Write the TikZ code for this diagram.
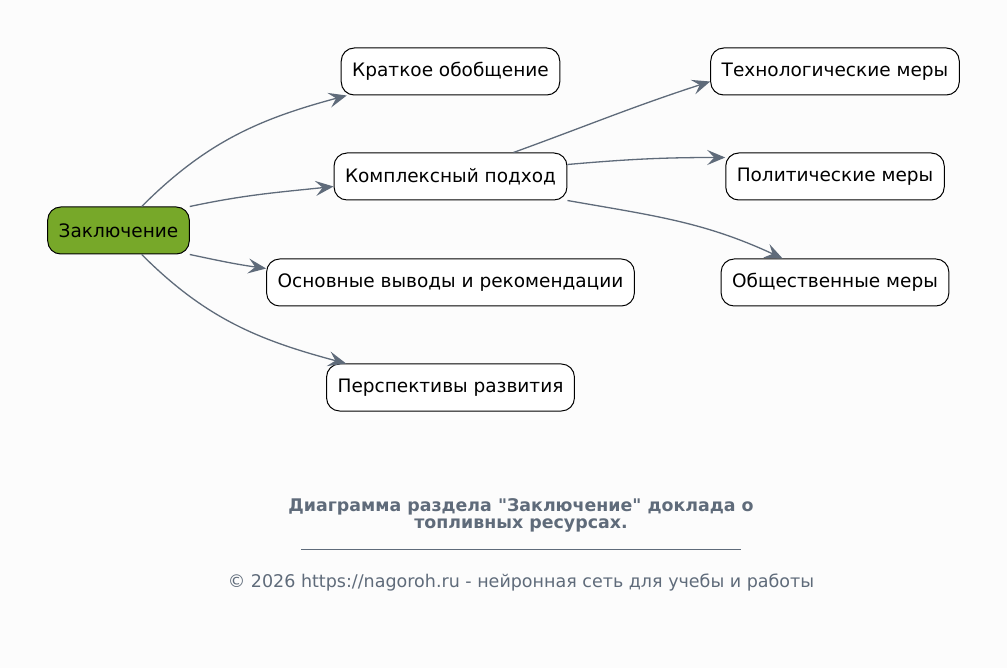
\documentclass[tikz,border=0pt]{standalone}
\usepackage{fontspec}
\setmainfont{DejaVu Sans}[Ligatures=TeXOff]
\usetikzlibrary{arrows.meta,positioning}
\definecolor{vert}{HTML}{77A829}
\definecolor{ardoise}{HTML}{5F6B7A}
\definecolor{fond}{HTML}{FCFCFC}

\begin{document}
\begin{tikzpicture}[x=1pt, y=-1pt, ->, >={Stealth[length=18pt,width=15pt,inset=7pt]}, every node/.style={draw, rounded corners=13pt, fill=white, font=\fontsize{18.5}{22}\selectfont, minimum height=47pt, inner xsep=11pt, line width=1pt}, lien/.style={draw=ardoise, line width=1.3pt}, pied/.style={draw=none, fill=none, rounded corners=0pt, minimum height=0pt, inner sep=0pt, text=ardoise, align=center}]
		\fill[fond] (0,0) rectangle (1007,668);
		\useasboundingbox (0,0) rectangle (1007,668);
		
		\node [fill=vert] (0) at (118.5,230.5) {Заключение};
		\node (1) at (450.5,71.5) {Краткое обобщение};
		\node (2) at (450.5,176.5) {Комплексный подход};
		\node (3) at (450.5,282.5) {Основные выводы и рекомендации};
		\node (4) at (450.5,387.5) {Перспективы развития};
		\node (5) at (835,71.5) {Технологические меры};
		\node (6) at (835,176.5) {Политические меры};
		\node (7) at (835,282.5) {Общественные меры};
		
		\draw [lien] (0.46) to[out=45, in=195] ([xshift=6pt]1.south west);
		\draw [lien] (0.north east) to[out=12, in=186] ([yshift=-10pt]2.west);
		\draw [lien] (0.south east) to[out=-12, in=172] ([yshift=14pt]3.west);
		\draw [lien] (0.-46) to[out=-45, in=165] ([xshift=20pt]4.north west);
		\draw [lien] ([xshift=-54pt]2.north east) to[out=20, in=198] ([yshift=-10pt]5.west);
		\draw [lien] ([yshift=12pt]2.east) to[out=5, in=180] ([yshift=19pt]6.west);
		\draw [lien] (2.south east) to[out=-10, in=155] ([xshift=62pt]7.north west);
		
		\node [pied, font=\bfseries\fontsize{17.4}{17}\selectfont] (8) at (521,515) {Диаграмма раздела "Заключение" доклада о\\топливных ресурсах.};
		\draw [-, ardoise, line width=0.8pt] (301,549) -- (741,549);
		\node [pied, font=\fontsize{17.5}{19}\selectfont] (9) at (521,583) {© 2026 https://nagoroh.ru - нейронная сеть для учебы и работы};
		
	\end{tikzpicture}
\end{document}
